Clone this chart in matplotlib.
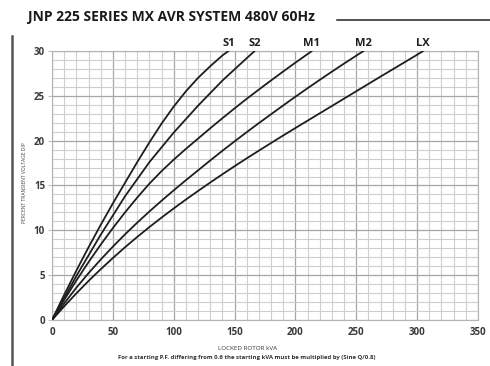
import matplotlib
matplotlib.use("Agg")
import matplotlib.pyplot as plt
from matplotlib.lines import Line2D
from matplotlib.ticker import MultipleLocator

# --- DATA: transient voltage dip (%) against locked rotor kVA for each curve ---
kva_s1 = [0, 10, 20, 30, 40, 50, 60, 70, 80, 90, 100, 110, 120, 130, 140, 145]
dip_s1 = [0, 2.8, 5.5, 8.1, 10.6, 13.0, 15.3, 17.6, 19.8, 21.9, 23.8, 25.5, 27.0, 28.3, 29.5, 30]

kva_s2 = [0, 10, 20, 30, 40, 50, 60, 70, 80, 90, 100, 110, 120, 130, 140, 150, 160, 166.5]
dip_s2 = [0, 2.45, 4.9, 7.2, 9.5, 11.65, 13.8, 15.7, 17.6, 19.25, 20.9, 22.4, 23.9, 25.3,
          26.7, 27.95, 29.2, 30]

kva_m1 = [0, 10, 20, 30, 40, 50, 60, 70, 80, 90, 100, 110, 120, 130, 140, 150, 160, 170,
          180, 190, 200, 210, 213.5]
dip_m1 = [0, 2.25, 4.4, 6.45, 8.4, 10.25, 12.0, 13.65, 15.2, 16.6, 17.88, 19.08, 20.23,
          21.38, 22.5, 23.6, 24.67, 25.7, 26.72, 27.72, 28.7, 29.66, 30]

kva_m2 = [0, 10, 20, 30, 40, 50, 60, 70, 80, 90, 100, 110, 120, 130, 140, 150, 160, 170,
          180, 190, 200, 210, 220, 230, 240, 250, 256]
dip_m2 = [0, 1.85, 3.6, 5.22, 6.74, 8.18, 9.55, 10.85, 12.1, 13.3, 14.46, 15.59, 16.69,
          17.79, 18.87, 19.92, 20.95, 21.96, 22.95, 23.93, 24.9, 25.85, 26.78, 27.7, 28.6,
          29.48, 30]

kva_lx = [0, 10, 20, 30, 40, 50, 60, 70, 80, 90, 100, 110, 120, 130, 140, 150, 160, 170,
          180, 190, 200, 210, 220, 230, 240, 250, 260, 270, 280, 290, 300, 305]
dip_lx = [0, 1.52, 2.97, 4.35, 5.66, 6.91, 8.11, 9.26, 10.36, 11.42, 12.44, 13.43, 14.39,
          15.33, 16.25, 17.15, 18.03, 18.89, 19.74, 20.58, 21.41, 22.23, 23.05, 23.87, 24.69,
          25.51, 26.33, 27.15, 27.96, 28.77, 29.58, 30]

curve_names = ["S1", "S2", "M1", "M2", "LX"]
curve_kva = [kva_s1, kva_s2, kva_m1, kva_m2, kva_lx]
curve_dip = [dip_s1, dip_s2, dip_m1, dip_m2, dip_lx]

TITLE = "JNP 225 SERIES MX AVR SYSTEM 480V 60Hz"
X_LABEL = "LOCKED ROTOR kVA"
Y_LABEL = "PERCENT TRANSIENT VOLTAGE DIP"
NOTE = "For a starting P.F. differing from 0.6 the starting kVA must be multiplied by (Sine Q/0.8)"

FONT = "Open Sans"

# --- FIGURE ---
fig = plt.figure(figsize=(4.9, 3.66), dpi=100)
fig.patch.set_facecolor("white")
ax = fig.add_axes([0.1061, 0.1257, 0.8694, 0.735])

for name, kva, dip in zip(curve_names, curve_kva, curve_dip):
    ax.plot(kva, dip, color="#1e1e1e", linewidth=1.3, solid_capstyle="round",
            solid_joinstyle="round", zorder=3)
    # curve name sits just above where the line leaves the grid
    ax.annotate(name, xy=(kva[-1], dip[-1]), xytext=(0, 1.5), textcoords="offset points",
                ha="center", va="bottom", fontsize=8, fontweight="bold",
                family=FONT, color="#1e1e1e", annotation_clip=False)

ax.set_xlim(0, 350)
ax.set_ylim(0, 30)
ax.xaxis.set_major_locator(MultipleLocator(50))
ax.xaxis.set_minor_locator(MultipleLocator(10))
ax.yaxis.set_major_locator(MultipleLocator(5))
ax.yaxis.set_minor_locator(MultipleLocator(1))

ax.grid(which="minor", color="#cfcfcf", linewidth=0.8)
ax.grid(which="major", color="#a6a6a6", linewidth=0.9)
ax.set_axisbelow(True)

for sp in ax.spines.values():
    sp.set_color("#b4b4b4")
    sp.set_linewidth(0.8)

ax.tick_params(axis="x", which="both", length=0, pad=5)
ax.tick_params(axis="y", which="major", length=3, color="#c0c0c0", pad=2)
ax.tick_params(axis="y", which="minor", length=0)
for lab in ax.get_xticklabels() + ax.get_yticklabels():
    lab.set_fontsize(7)
    lab.set_fontweight("bold")
    lab.set_family(FONT)
    lab.set_color("#3a3a3a")

# tiny axis captions
fig.text(0.051, 0.50, Y_LABEL, rotation=90, ha="center", va="center",
         fontsize=3.6, family=FONT, color="#444444")
fig.text(0.506, 0.047, X_LABEL, ha="center", va="center",
         fontsize=4.5, family=FONT, color="#333333")
fig.text(0.504, 0.024, NOTE, ha="center", va="center",
         fontsize=4.3, fontweight="bold", family=FONT, color="#333333")

# header
fig.text(0.057, 0.953, TITLE, ha="left", va="center",
         fontsize=10, fontweight="bold", family=FONT, color="#1a1a1a")
fig.add_artist(Line2D([0.688, 1.0], [0.944, 0.944], color="#222222", linewidth=1.1))
fig.add_artist(Line2D([0.024, 0.024], [0.0, 0.902], color="#555555", linewidth=1.8))

fig.savefig("out.png", dpi=100)
